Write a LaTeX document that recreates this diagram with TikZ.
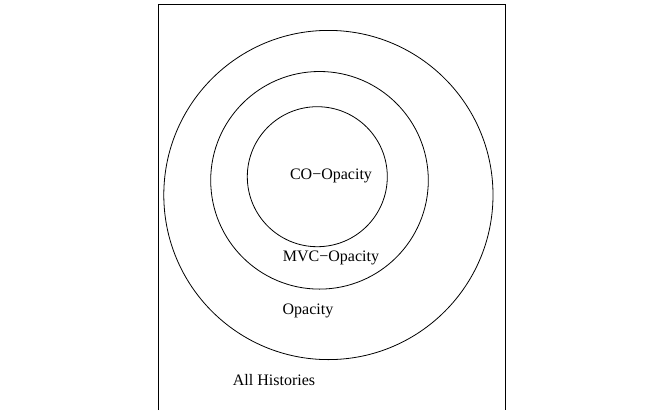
\documentclass[tikz,border=0pt]{standalone}
\usepackage{fontspec}
\setmainfont{Liberation Serif}
\begin{document}
\begin{tikzpicture}[x=1pt,y=-1pt,
  ring/.style={circle,draw=black,line width=0.8pt,inner sep=0pt,outer sep=0pt},
  lbl/.style={font=\fontsize{16}{19}\selectfont,inner sep=0pt}]
\useasboundingbox (0,0) rectangle (660,410);
\draw[line width=0.9pt] (158,410) -- (158,4.7) -- (505.3,4.7) -- (505.3,410);
\node[ring,minimum size=329.2pt] (outer) at (328.4,195) {};
\node[ring,minimum size=217.6pt] (middle) at (319.5,180.3) {};
\node[ring,minimum size=140pt] (inner) at (317.3,176.7) {};
\node[lbl] (co) at (331,176) {CO−Opacity};
\node[lbl] (mvc) at (331,258) {MVC−Opacity};
\node[lbl] (op) at (308,311) {Opacity};
\node[lbl] (all) at (274,380) {All Histories};
\end{tikzpicture}
\end{document}
